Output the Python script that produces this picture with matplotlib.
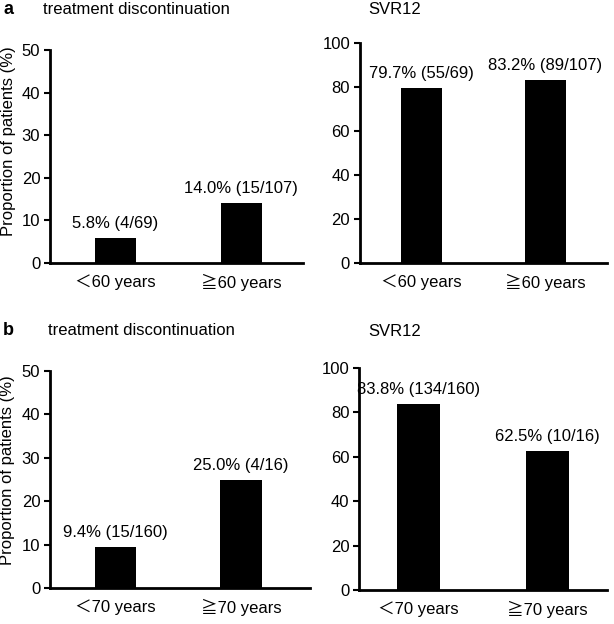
import matplotlib.pyplot as plt

plt.rcParams['font.family'] = ['Liberation Sans', 'Noto Sans CJK JP']
plt.rcParams['font.size'] = 12

# data
cats_60 = ['＜60 years', '≧60 years']
cats_70 = ['＜70 years', '≧70 years']
disc_60 = [5.8, 14.0]
disc_60_lab = ['5.8% (4/69)', '14.0% (15/107)']
svr_60 = [79.7, 83.2]
svr_60_lab = ['79.7% (55/69)', '83.2% (89/107)']
disc_70 = [9.4, 25.0]
disc_70_lab = ['9.4% (15/160)', '25.0% (4/16)']
svr_70 = [83.8, 62.5]
svr_70_lab = ['83.8% (134/160)', '62.5% (10/16)']

fig = plt.figure(figsize=(6.14, 6.24), dpi=100)

panels = [
    ([0.0814, 0.5785, 0.412, 0.3415], cats_60, disc_60, disc_60_lab, 50, (-0.52, 1.49), 0.57),
    ([0.586, 0.5785, 0.4026, 0.3525], cats_60, svr_60, svr_60_lab, 100, (-0.50, 1.50), None),
    ([0.0814, 0.0577, 0.4236, 0.3477], cats_70, disc_70, disc_70_lab, 50, (-0.52, 1.55), 0.545),
    ([0.5847, 0.0545, 0.404, 0.3558], cats_70, svr_70, svr_70_lab, 100, (-0.46, 1.46), None),
]

for rect, cats, vals, labs, ymax, xl, ylab_y in panels:
    ax = fig.add_axes(rect)
    x = range(len(cats))
    ax.bar(x, vals, width=0.33, color='black')
    for xi, v, t in zip(x, vals, labs):
        ax.annotate(t, (xi, v), xytext=(0, 5), textcoords='offset points',
                    ha='center', va='bottom')
    ax.set_ylim(0, ymax)
    ax.set_yticks(range(0, ymax + 1, ymax // 5))
    ax.set_xlim(*xl)
    ax.set_xticks(list(x))
    ax.set_xticklabels(cats)
    ax.tick_params(axis='x', length=0, pad=8)
    ax.tick_params(axis='y', length=4, width=1.5, pad=3)
    for s in ['top', 'right']:
        ax.spines[s].set_visible(False)
    for s in ['left', 'bottom']:
        ax.spines[s].set_linewidth(2)
    if ylab_y is not None:
        ax.set_ylabel('Proportion of patients (%)')
        ax.yaxis.set_label_coords(-0.135, ylab_y)

fig.text(0.005, 0.984, 'a', fontweight='bold', fontsize=13, va='center')
fig.text(0.070, 0.984, 'treatment discontinuation', va='center')
fig.text(0.599, 0.984, 'SVR12', va='center')
fig.text(0.005, 0.471, 'b', fontweight='bold', fontsize=13, va='center')
fig.text(0.078, 0.471, 'treatment discontinuation', va='center')
fig.text(0.599, 0.468, 'SVR12', va='center')

fig.savefig('out.png', dpi=100)
